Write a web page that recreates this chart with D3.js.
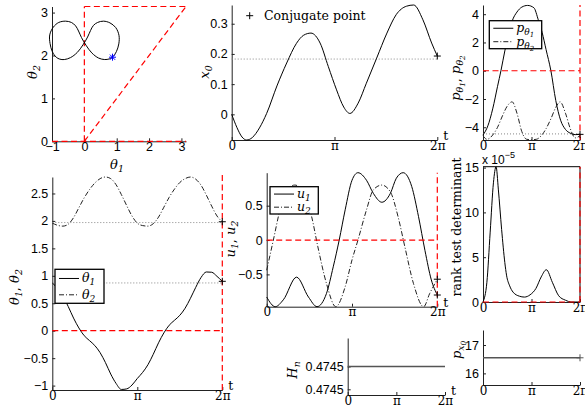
<!DOCTYPE html>
<html lang="en">
<head>
<meta charset="utf-8">
<title>Conjugate point panels</title>
<script src="https://cdn.jsdelivr.net/npm/d3@7"></script>
<style>
  body { margin: 0; background: #fff; }
  svg { display: block; }
  .axis path, .axis line { stroke: #222; stroke-width: 1; }
  .axis text { font-family: "Liberation Sans", Arial, sans-serif; font-size: 12.5px; fill: #000; }
  .axis text.serif { font-family: "DejaVu Serif", serif; font-size: 12px; }
  .math { font-family: "DejaVu Serif", serif; font-style: italic; font-size: 13px; fill: #000; }
  .plain { font-family: "DejaVu Serif", serif; font-size: 12.5px; fill: #000; }
  .curve { fill: none; stroke: #000; stroke-width: 1; }
  .dashdot { stroke: #222; stroke-dasharray: 5,2,1,2; }
  .ref { fill: none; stroke: #888; stroke-width: 1; stroke-dasharray: 1,2; }
  .red { fill: none; stroke: #f00; stroke-width: 1.2; stroke-dasharray: 6,3.5; }
  .mark { fill: none; stroke: #000; stroke-width: 1; }
  .legend rect { fill: #fff; stroke: #000; stroke-width: 1.3; }
</style>
</head>
<body>
<script>
// ---------------------------------------------------------------
// DATA (every t value is in units of pi, so 2 means t = 2*pi)
// ---------------------------------------------------------------

// joint angles, sampled every pi/16
var tTheta = [0, 0.0625, 0.125, 0.1875, 0.25, 0.3125, 0.375, 0.4375, 0.5, 0.5625,
              0.625, 0.6875, 0.75, 0.8125, 0.875, 0.9375, 1, 1.0625, 1.125, 1.1875,
              1.25, 1.3125, 1.375, 1.4375, 1.5, 1.5625, 1.625, 1.6875, 1.75, 1.8125,
              1.875, 1.9375, 2];
var theta1 = [0.87, 0.77, 0.63, 0.44, 0.23, 0.05, -0.09, -0.18, -0.27, -0.40,
              -0.58, -0.79, -0.96, -1.07, -1.06, -0.99, -0.87, -0.76, -0.62, -0.43,
              -0.22, -0.04, 0.10, 0.19, 0.28, 0.41, 0.59, 0.79, 0.97, 1.07,
              1.065, 0.99, 0.90];
var theta2 = [1.96, 1.92, 1.905, 1.94, 2.06, 2.24, 2.42, 2.57, 2.69, 2.77,
              2.80, 2.77, 2.66, 2.48, 2.28, 2.09, 1.96, 1.915, 1.905, 1.95,
              2.07, 2.25, 2.43, 2.58, 2.70, 2.77, 2.80, 2.76, 2.65, 2.47,
              2.27, 2.09, 1.985];
var thetaRef = [0.87, 1.97];   // dotted start levels

// base position x0
var tX0 = [0, 0.05, 0.1, 0.146, 0.2, 0.27, 0.34, 0.44, 0.535, 0.63, 0.7, 0.771, 0.86,
           0.94, 1.02, 1.09, 1.15, 1.23, 1.31, 1.41, 1.51, 1.6, 1.7, 1.77, 1.86, 1.945, 2];
var x0 = [0, -0.043, -0.075, -0.085, -0.077, -0.045, 0.003, 0.094, 0.17, 0.235, 0.262,
          0.269, 0.236, 0.158, 0.081, 0.024, 0.003, 0.037, 0.103, 0.186, 0.269, 0.33,
          0.358, 0.362, 0.313, 0.236, 0.193];
var x0Ref = 0.183;

// costates
var tP1 = [0, 0.1, 0.2, 0.3, 0.37, 0.45, 0.55, 0.6, 0.7, 0.8, 0.92, 1.05, 1.14, 1.22,
           1.3, 1.4, 1.5, 1.6, 1.7, 1.8, 1.9, 2];
var pTheta1 = [-4.55, -3.9, -2.7, -1.1, 0, 1.4, 2.9, 3.5, 4.15, 4.5, 4.62, 4.45, 3.6, 2.7,
               1.5, 0, -2.1, -3.5, -4.15, -4.42, -4.52, -4.5];
var tP2 = [0, 0.08, 0.2, 0.3, 0.4, 0.5, 0.6, 0.7, 0.8, 0.9, 1.0, 1.1, 1.2, 1.3, 1.4, 1.5,
           1.59, 1.7, 1.8, 1.9, 2];
var pTheta2 = [-4.6, -4.85, -4.55, -4.0, -3.2, -2.5, -2.2, -3.0, -4.3, -4.85, -4.88, -4.85,
               -4.6, -4.1, -3.4, -2.6, -2.2, -3.0, -4.1, -4.75, -4.6];
var pRef = -4.47;

// controls
var tU1 = [0, 0.1, 0.195, 0.35, 0.49, 0.59, 0.7, 0.78, 0.85, 0.92, 1.0, 1.07, 1.17, 1.25,
           1.35, 1.45, 1.52, 1.6, 1.7, 1.78, 1.855, 1.93, 2];
var u1 = [-0.83, -0.97, -0.87, -0.54, -0.83, -0.97, -0.78, -0.39, 0, 0.44, 0.87, 0.98, 0.87,
          0.68, 0.55, 0.68, 0.9, 0.98, 0.78, 0.34, -0.15, -0.58, -0.8];
var tU2 = [0, 0.078, 0.156, 0.234, 0.33, 0.43, 0.527, 0.6, 0.7, 0.81, 0.92, 1.0, 1.07, 1.17,
           1.25, 1.35, 1.45, 1.54, 1.62, 1.72, 1.84, 1.91, 2];
var u2 = [-0.44, 0, 0.44, 0.73, 0.8, 0.7, 0.34, -0.1, -0.63, -0.97, -0.68, -0.29, 0, 0.44,
          0.73, 0.8, 0.7, 0.34, -0.1, -0.63, -0.97, -0.78, -0.57];

// rank test determinant (units of 1e-5)
var tDet = [0, 0.08, 0.148, 0.215, 0.27, 0.316, 0.384, 0.45, 0.485, 0.55, 0.62, 0.75, 0.855,
            0.97, 1.09, 1.2, 1.306, 1.43, 1.56, 1.7, 1.83, 2];
var rankDet = [0, 2.2, 7.8, 13.3, 15.1, 12.6, 8.1, 4.4, 3.0, 1.8, 1.1, 0.65, 0.55, 0.8, 1.5,
               2.8, 3.6, 2.2, 0.7, 0.2, 0, 0];

// constant quantities
var tConst = [0, 2];
var hamiltonian = [0.4745, 0.4745];
var px0 = [16.55, 16.55];

// tick values / labels
var piTicks = [0, 1, 2];
var piLabels = ["0", "\u03c0", "2\u03c0"];

// ---------------------------------------------------------------
// DRAWING
// ---------------------------------------------------------------
var svg = d3.select("body").append("svg").attr("width", 585).attr("height", 412);

var plusShape = "M-3.5,0H3.5M0,-3.5V3.5";
var starShape = "M-3.5,0H3.5M0,-3.5V3.5M-2.6,-2.6L2.6,2.6M-2.6,2.6L2.6,-2.6";
var numFormat = d3.format("~g");

// one set of axes: scales, a left axis and a bottom axis (MATLAB style, ticks inside)
function panel(o) {
  var x = d3.scaleLinear().domain(o.xDomain || [0, 2]).range([o.left, o.right]);
  var y = d3.scaleLinear().domain(o.yDomain).range([o.bottom, o.top]);
  var g = svg.append("g");

  var xAxis = d3.axisBottom(x).tickValues(o.xTicks || piTicks)
    .tickSizeInner(-3).tickSizeOuter(0).tickPadding(1);
  if (!o.xTicks) xAxis.tickFormat(function(d, i) { return piLabels[i]; });
  else xAxis.tickFormat(numFormat);
  var gx = g.append("g").attr("class", "axis")
    .attr("transform", "translate(0," + o.bottom + ")").call(xAxis);
  if (!o.xTicks) gx.selectAll("text").attr("class", "serif");

  var yAxis = d3.axisLeft(y).tickValues(o.yTicks)
    .tickSizeInner(-3).tickSizeOuter(0).tickPadding(4)
    .tickFormat(o.yFormat || numFormat);
  g.append("g").attr("class", "axis")
    .attr("transform", "translate(" + o.left + ",0)").call(yAxis);

  if (!o.xTicks) {
    g.append("text").attr("class", "plain").attr("text-anchor", "middle")
      .attr("x", o.right + 8.5).attr("y", o.bottom).text("t");
  }
  return { g: g, x: x, y: y };
}

function series(p, ts, vs, cls, curve) {
  var line = d3.line()
    .x(function(d) { return p.x(d[0]); })
    .y(function(d) { return p.y(d[1]); })
    .curve(curve || d3.curveMonotoneX);
  p.g.append("path").datum(d3.zip(ts, vs))
    .attr("class", "curve " + (cls || "")).attr("d", line);
}

function seg(p, a, b, cls) {
  p.g.append("line").attr("class", cls)
    .attr("x1", p.x(a[0])).attr("y1", p.y(a[1]))
    .attr("x2", p.x(b[0])).attr("y2", p.y(b[1]));
}

function mark(p, t, v, shape, color) {
  p.g.append("path").attr("class", "mark").attr("d", shape)
    .attr("transform", "translate(" + p.x(t) + "," + p.y(v) + ")")
    .style("stroke", color || "#000");
}

// text with subscripts: "_" prefix = subscript, "__" = second level
function mathText(parent, x, y, rot, parts, size) {
  var t = parent.append("text").attr("class", "math")
    .attr("text-anchor", "middle")
    .attr("transform", "translate(" + x + "," + y + ")" + (rot ? " rotate(" + rot + ")" : ""));
  if (size) t.style("font-size", size + "px");
  var level = 0;
  parts.forEach(function(s) {
    var lv = s.startsWith("__") ? 2 : s.startsWith("_") ? 1 : 0;
    var span = t.append("tspan").text(s.slice(lv));
    var shift = [0, 3, 5];
    if (lv !== level) span.attr("dy", shift[lv] - shift[level]);
    level = lv;
    if (lv === 1) span.attr("font-size", "0.72em");
    if (lv === 2) span.attr("font-size", "0.56em");
    if (s === ", ") span.style("font-style", "normal");
  });
  return t;
}

function legend(p, box, entries) {
  var lg = p.g.append("g").attr("class", "legend");
  lg.append("rect").attr("x", box[0]).attr("y", box[1]).attr("width", box[2]).attr("height", box[3]);
  entries.forEach(function(e, i) {
    var yy = box[1] + box[3] * (i === 0 ? 0.27 : 0.75);
    lg.append("line").attr("class", "curve " + (e.cls || ""))
      .attr("x1", box[0] + 4).attr("x2", box[0] + 24).attr("y1", yy).attr("y2", yy);
    var tx = mathText(lg, box[0] + 27, yy + 4, 0, e.label, 12.5);
    tx.attr("text-anchor", "start");
  });
}

// ---- panel 1: theta2 vs theta1 (figure eight) ----
var p1 = panel({ left: 52, right: 186, top: 6.5, bottom: 141.3,
  xDomain: [-1, Math.PI], yDomain: [0, Math.PI], xTicks: [-1, 0, 1, 2, 3], yTicks: [0, 1, 2, 3] });
seg(p1, [0, 0], [0, Math.PI], "red");
seg(p1, [0, Math.PI], [Math.PI, Math.PI], "red");
seg(p1, [0, 0], [Math.PI, Math.PI], "red");
seg(p1, [-1, 0], [Math.PI, 0], "red");
series(p1, theta1, theta2, "", d3.curveCatmullRom);
mark(p1, theta1[0], theta2[0], starShape, "#0000ff");
mathText(svg, 37, 72, -90, ["\u03b8", "_2"]);
mathText(svg, 117, 169, 0, ["\u03b8", "_1"]);

// ---- panel 2: x0 ----
var p2 = panel({ left: 231.7, right: 437.3, top: 5, bottom: 140,
  yDomain: [-0.085, 0.362], yTicks: [0, 0.1, 0.2, 0.3] });
seg(p2, [0, x0Ref], [2, x0Ref], "ref");
series(p2, tX0, x0);
mark(p2, 2, x0[x0.length - 1], plusShape);
svg.append("path").attr("class", "mark").attr("d", plusShape).attr("transform", "translate(249.7,15.7)");
svg.append("text").attr("class", "plain").attr("x", 264).attr("y", 19.5).text("Conjugate point");
mathText(svg, 209, 72, -90, ["x", "_0"]);

// ---- panel 3: costates ----
var p3 = panel({ left: 483, right: 580, top: 5, bottom: 140,
  yDomain: [-4.9, 4.65], yTicks: [-4, -2, 0, 2, 4] });
seg(p3, [0, pRef], [2, pRef], "ref");
series(p3, tP1, pTheta1);
series(p3, tP2, pTheta2, "dashdot");
seg(p3, [0, 0], [2, 0], "red");
seg(p3, [2, -4.9], [2, 4.65], "red");
mark(p3, 2, pTheta1[pTheta1.length - 1], plusShape);
legend(p3, [489.3, 20.7, 52.4, 28], [
  { label: ["p", "_\u03b8", "__1"] },
  { label: ["p", "_\u03b8", "__2"], cls: "dashdot" }]);
mathText(svg, 460, 78, -90, ["p", "_\u03b8", "__1", ", ", "p", "_\u03b8", "__2"]);

// ---- panel 4: theta1, theta2 vs t ----
var p4 = panel({ left: 52.3, right: 222.3, top: 177, bottom: 390,
  yDomain: [-1.08, 2.8], yTicks: [-1, -0.5, 0, 0.5, 1, 1.5, 2, 2.5] });
seg(p4, [0, thetaRef[0]], [2, thetaRef[0]], "ref");
seg(p4, [0, thetaRef[1]], [2, thetaRef[1]], "ref");
series(p4, tTheta, theta1);
series(p4, tTheta, theta2, "dashdot");
seg(p4, [0, 0], [2, 0], "red");
seg(p4, [2, -1.08], [2, 2.85], "red");
mark(p4, 2, theta1[theta1.length - 1], plusShape);
mark(p4, 2, theta2[theta2.length - 1], plusShape);
legend(p4, [55, 269.3, 49, 34], [
  { label: ["\u03b8", "_1"] },
  { label: ["\u03b8", "_2"], cls: "dashdot" }]);
mathText(svg, 19, 287, -90, ["\u03b8", "_1", ", ", "\u03b8", "_2"]);

// ---- panel 5: controls ----
var p5 = panel({ left: 266.7, right: 437.3, top: 172.7, bottom: 306.7,
  yDomain: [-0.97, 0.98], yTicks: [-0.5, 0, 0.5] });
series(p5, tU1, u1);
series(p5, tU2, u2, "dashdot");
seg(p5, [0, 0], [2, 0], "red");
seg(p5, [2, -0.97], [2, 0.98], "red");
mark(p5, 2, u1[u1.length - 1], plusShape);
mark(p5, 2, u2[u2.length - 1], plusShape);
legend(p5, [270, 186.7, 48.3, 27.3], [
  { label: ["u", "_1"] },
  { label: ["u", "_2"], cls: "dashdot" }]);
mathText(svg, 235, 239, -90, ["u", "_1", ", ", "u", "_2"]);

// ---- panel 6: rank test determinant ----
var p6 = panel({ left: 483, right: 580, top: 166.7, bottom: 302,
  yDomain: [0, 15.1], yTicks: [0, 5, 10, 15] });
p6.g.append("path").attr("class", "curve")
  .attr("d", "M" + p6.x(0) + "," + p6.y(15.1) + "H" + p6.x(2) + "V" + p6.y(0));
series(p6, tDet, rankDet);
seg(p6, [0, 0], [2, 0], "red");
seg(p6, [2, 0], [2, 15.1], "red");
var sci = svg.append("text").attr("x", 482).attr("y", 164)
  .style("font-family", "Liberation Sans, Arial, sans-serif");
sci.append("tspan").style("font-size", "12px").text("x 10");
sci.append("tspan").attr("dy", -6).style("font-size", "9px").text("\u22125");
svg.append("text").attr("class", "plain").attr("text-anchor", "middle")
  .attr("transform", "translate(461,227) rotate(-90)").text("rank test determinant");

// ---- panel 7: Hamiltonian ----
var p7 = panel({ left: 347.7, right: 445, top: 338, bottom: 395,
  yDomain: [0.47449, 0.47451], yTicks: [0.474492, 0.4745], yFormat: d3.format(".4f") });
p7.g.append("path").datum(d3.zip(tConst, hamiltonian)).attr("class", "curve")
  .style("stroke", "#555").style("stroke-width", 1.6)
  .attr("d", d3.line().x(function(d) { return p7.x(d[0]); }).y(function(d) { return p7.y(d[1]); }));
mathText(svg, 297, 370, -90, ["H", "_n"]);

// ---- panel 8: p_x0 ----
var p8 = panel({ left: 483, right: 580, top: 330, bottom: 385,
  yDomain: [15.59, 17.53], yTicks: [16, 17] });
p8.g.append("path").datum(d3.zip(tConst, px0)).attr("class", "curve")
  .style("stroke", "#555").style("stroke-width", 1.6)
  .attr("d", d3.line().x(function(d) { return p8.x(d[0]); }).y(function(d) { return p8.y(d[1]); }));
mark(p8, 2, px0[1], plusShape, "#555");
mathText(svg, 461, 350, -90, ["p", "_x", "__0"]);
</script>
</body>
</html>
